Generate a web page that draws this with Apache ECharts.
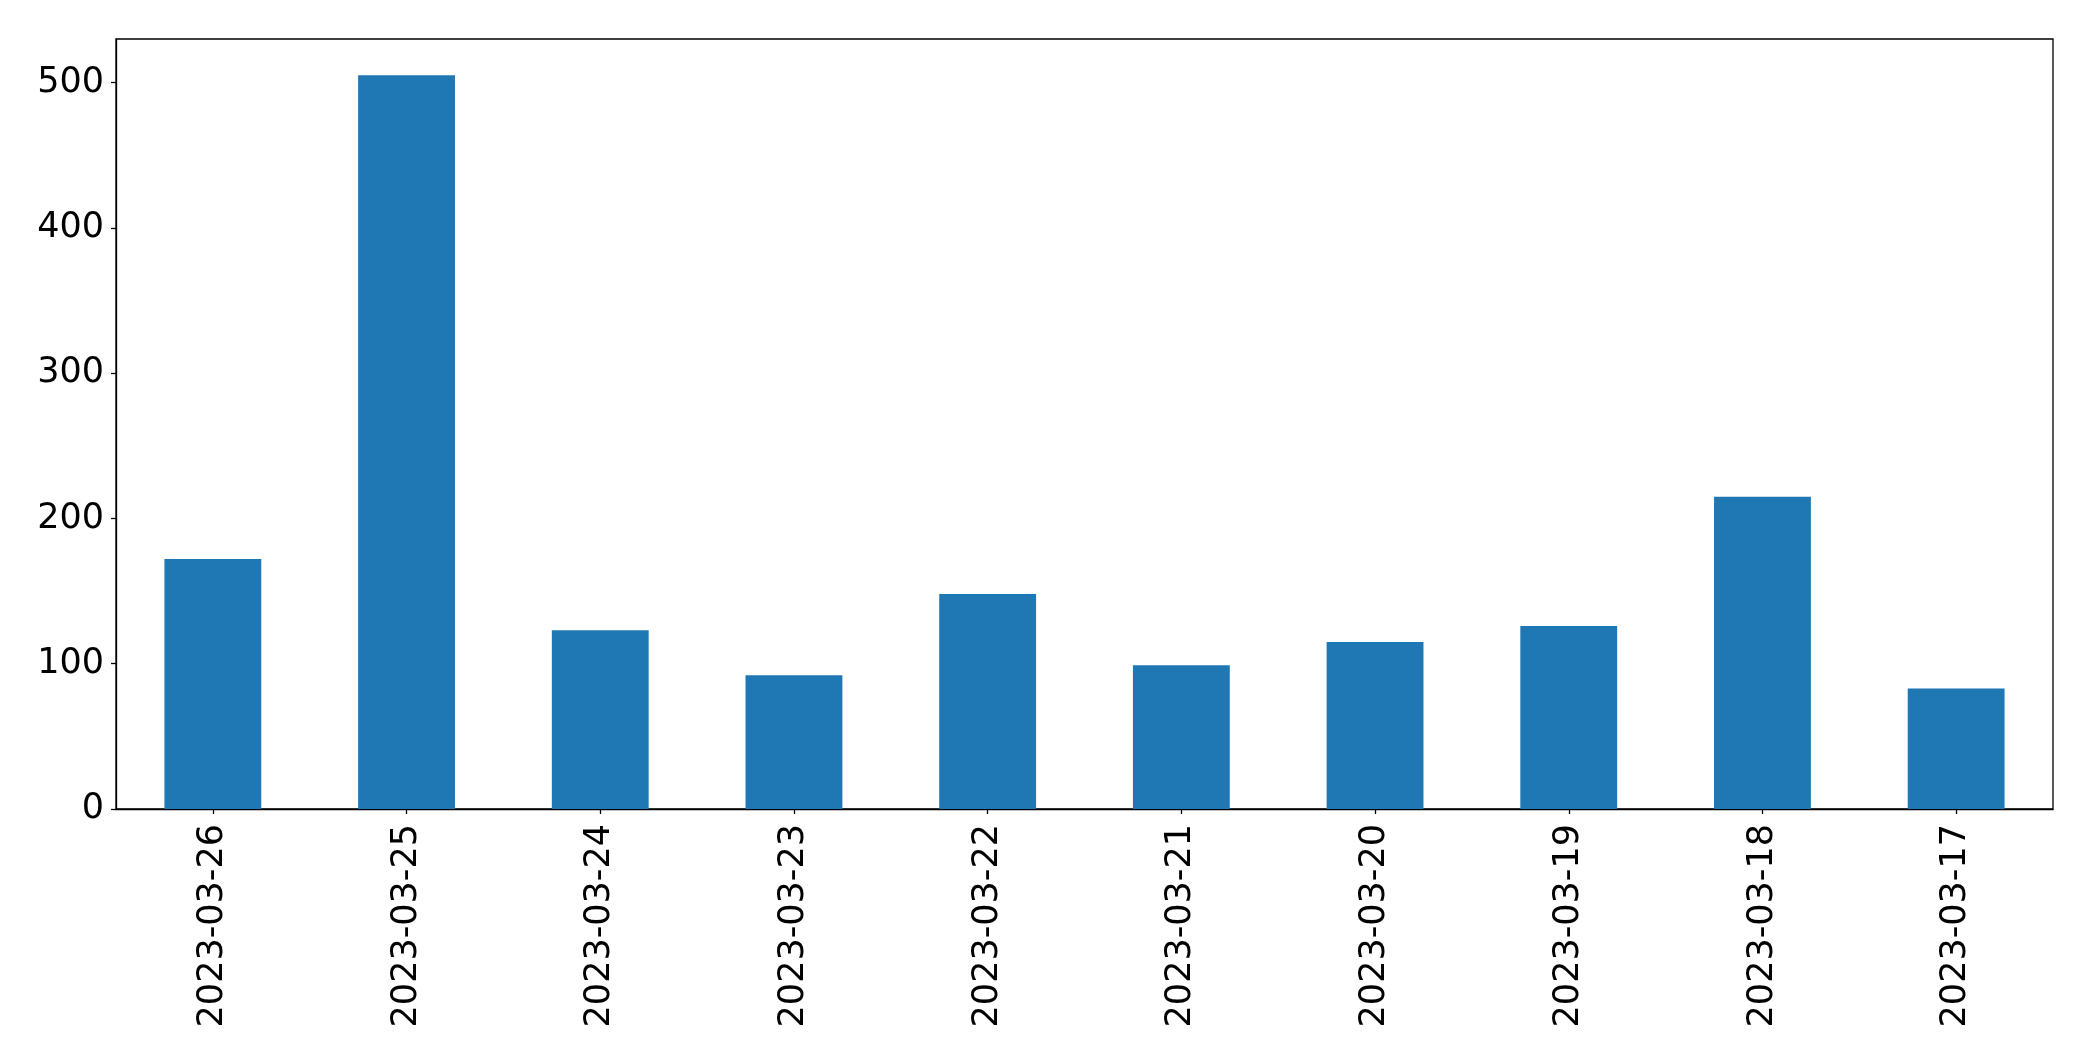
<!DOCTYPE html>
<html>
<head>
<meta charset="utf-8">
<script src="https://cdn.jsdelivr.net/npm/echarts@6/dist/echarts.min.js"></script>
<style>
html,body{margin:0;padding:0;background:#fff;}
#chart{width:2093px;height:1061px;}
</style>
</head>
<body>
<div id="chart"></div>
<script>
const categories = ["2023-03-26","2023-03-25","2023-03-24","2023-03-23","2023-03-22","2023-03-21","2023-03-20","2023-03-19","2023-03-18","2023-03-17"];
const values = [172, 505, 123, 92, 148, 99, 115, 126, 215, 83];
const yTicks = [0, 100, 200, 300, 400, 500];
const yMax = 530;

const chart = echarts.init(document.getElementById('chart'), null, {renderer: 'canvas'});
const font = '"DejaVu Sans", sans-serif';
chart.setOption({
  animation: false,
  backgroundColor: '#ffffff',
  grid: {
    left: 116, right: 40, top: 39, bottom: 252,
    show: true, borderColor: '#000', borderWidth: 1.3, backgroundColor: 'transparent'
  },
  xAxis: {
    type: 'category',
    data: categories,
    boundaryGap: true,
    axisLine: {show: true, lineStyle: {color: '#000', width: 1.3}},
    axisTick: {show: true, alignWithLabel: true, length: 5, lineStyle: {color: '#000', width: 1.3}},
    axisLabel: {rotate: 90, color: '#000', fontFamily: font, fontSize: 35, margin: 15, interval: 0},
    splitLine: {show: false}
  },
  yAxis: {
    type: 'value',
    min: 0, max: yMax, interval: 100,
    axisLine: {show: true, lineStyle: {color: '#000', width: 1.3}},
    axisTick: {show: true, length: 5, lineStyle: {color: '#000', width: 1.3}, customValues: yTicks},
    axisLabel: {color: '#000', fontFamily: font, fontSize: 35, margin: 12, customValues: yTicks},
    splitLine: {show: false}
  },
  series: [{
    type: 'bar',
    data: values,
    barWidth: '50%',
    itemStyle: {color: '#1f77b4'}
  }]
});
</script>
</body>
</html>
